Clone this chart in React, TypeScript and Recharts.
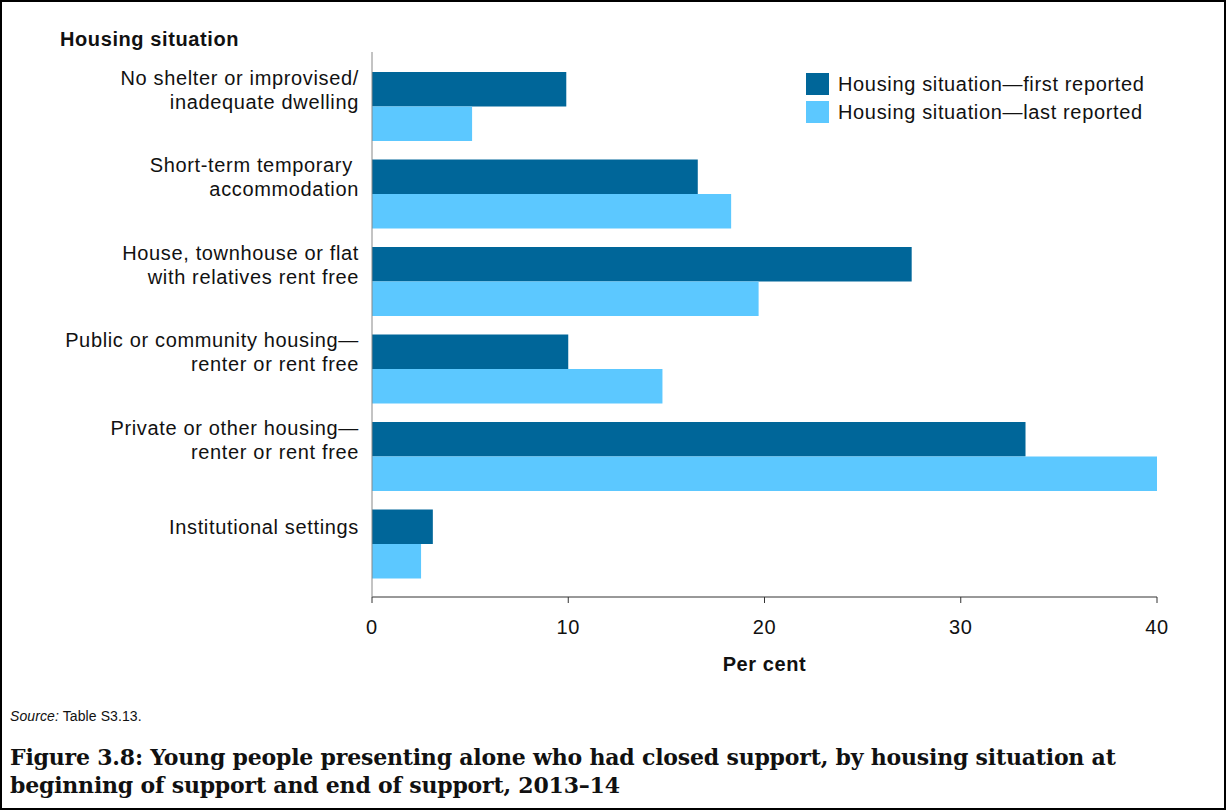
import React from 'react';
import { BarChart, Bar, XAxis, YAxis } from 'recharts';

const categories = [
  'No shelter or improvised/|inadequate dwelling',
  'Short-term temporary |accommodation',
  'House, townhouse or flat|with relatives rent free',
  'Public or community housing—|renter or rent free',
  'Private or other housing—|renter or rent free',
  'Institutional settings',
];
const firstReported = [9.9, 16.6, 27.5, 10.0, 33.3, 3.1];
const lastReported = [5.1, 18.3, 19.7, 14.8, 40.0, 2.5];
const xTicks = [0, 10, 20, 30, 40];

const data = categories.map((c, i) => ({
  name: c,
  first: firstReported[i],
  last: lastReported[i],
}));

const DARK = '#006699';
const LIGHT = '#5cc8ff';
const SANS = '"Liberation Sans", Arial, sans-serif';
const LS = 0.65;

const CategoryTick = (props: any) => {
  const { x, y, payload } = props;
  const lines: string[] = String(payload.value).split('|');
  const mid = y - 17;
  const start = mid - ((lines.length - 1) * 24) / 2;
  return (
    <text x={x} y={start} textAnchor="end" fontSize={20} letterSpacing={LS} fontFamily={SANS} fill="#111" dominantBaseline="central">
      {lines.map((l, i) => (
        <tspan key={i} x={x} y={start + i * 24}>{l}</tspan>
      ))}
    </text>
  );
};

export default function App() {
  return (
    <div style={{ position: 'absolute', left: 0, top: 0, width: 1226, height: 810, background: '#fff', boxSizing: 'border-box', border: '2px solid #000', fontFamily: SANS, overflow: 'hidden' }}>
      <div style={{ position: 'absolute', left: 58, top: 26, fontSize: 20, letterSpacing: 0.6, fontWeight: 'bold', color: '#111' }}>Housing situation</div>

      <div style={{ position: 'absolute', left: 0, top: 0 }}>
        <BarChart
          width={1222}
          height={700}
          data={data}
          layout="vertical"
          margin={{ top: 50, right: 67, bottom: 0, left: 0 }}
          barGap={0}
          barSize={34.5}
        >
          <XAxis
            type="number"
            domain={[0, 40]}
            ticks={xTicks}
            stroke="#333"
            tickSize={6}
            tickMargin={17}
            tick={{ fontSize: 20, fill: '#111', fontFamily: SANS, letterSpacing: LS }}
            height={105}
            label={{ value: 'Per cent', position: 'insideTop', offset: 60, fontSize: 20, letterSpacing: 0.6, fontWeight: 'bold', fill: '#111', fontFamily: SANS }}
          />
          <YAxis
            type="category"
            dataKey="name"
            width={370}
            stroke="#888"
            tickLine={false}
            tickSize={0}
            tickMargin={13}
            interval={0}
            padding={{ top: 11, bottom: 9 }}
            tick={<CategoryTick />}
          />
          <Bar dataKey="first" fill={DARK} isAnimationActive={false} />
          <Bar dataKey="last" fill={LIGHT} isAnimationActive={false} />
        </BarChart>
      </div>

      <div style={{ position: 'absolute', left: 804, top: 68, fontSize: 20, letterSpacing: LS, color: '#111', lineHeight: '28px' }}>
        <div style={{ display: 'flex', alignItems: 'center' }}>
          <span style={{ width: 23, height: 22, background: DARK, display: 'inline-block', marginRight: 9 }} />
          Housing situation—first reported
        </div>
        <div style={{ display: 'flex', alignItems: 'center' }}>
          <span style={{ width: 23, height: 22, background: LIGHT, display: 'inline-block', marginRight: 9 }} />
          Housing situation—last reported
        </div>
      </div>

      <div style={{ position: 'absolute', left: 8, top: 706, fontSize: 14, letterSpacing: 0.1, color: '#111' }}>
        <i>Source:</i> Table S3.13.
      </div>
      <div style={{ position: 'absolute', left: 8, top: 741, width: 1210, fontSize: 22, fontWeight: 'bold', lineHeight: '28px', color: '#111', fontFamily: '"DejaVu Serif", serif', letterSpacing: -0.2 }}>
        Figure 3.8: Young people presenting alone who had closed support, by housing situation at<br />
        beginning of support and end of support, 2013–14
      </div>
    </div>
  );
}
